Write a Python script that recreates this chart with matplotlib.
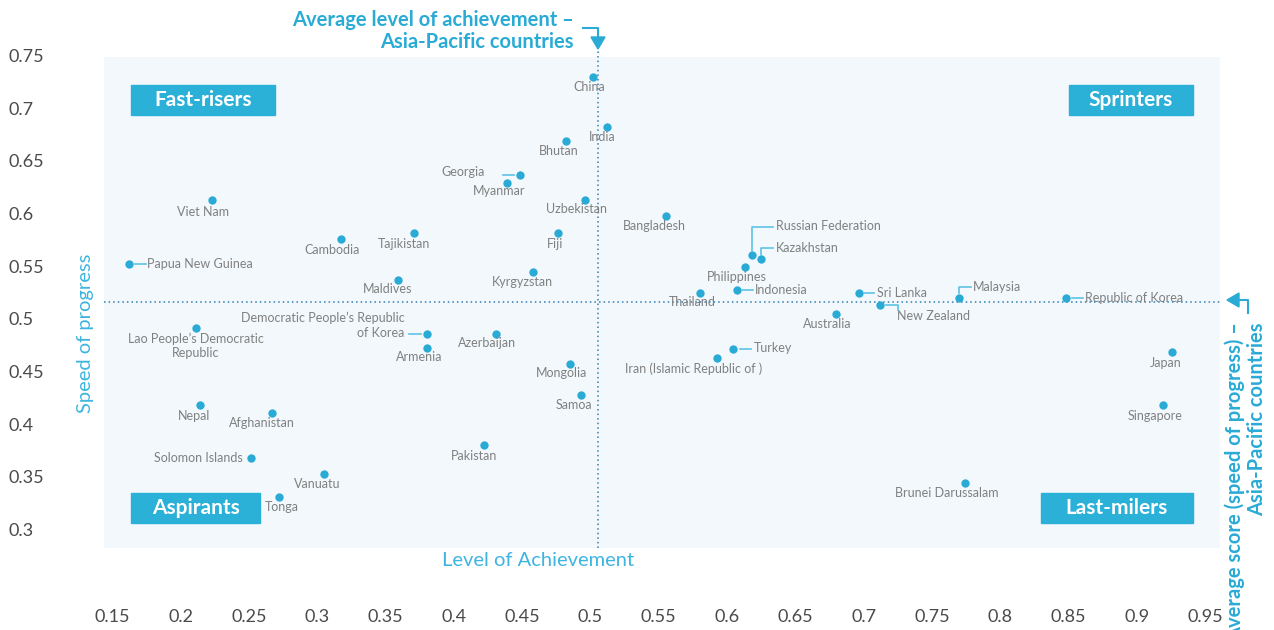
import matplotlib
matplotlib.use("Agg")
import matplotlib.pyplot as plt
from matplotlib.patches import Rectangle, Polygon
from matplotlib.lines import Line2D

plt.rcParams['font.family'] = ['Lato', 'DejaVu Sans']

# ---------------- data ----------------
countries = [
    "China", "India", "Bhutan", "Georgia", "Myanmar", "Uzbekistan", "Bangladesh",
    "Viet Nam", "Cambodia", "Tajikistan", "Fiji", "Papua New Guinea", "Maldives",
    "Kyrgyzstan", "Lao People\u2019s Democratic\nRepublic",
    "Democratic People\u2019s Republic\nof Korea", "Armenia", "Azerbaijan",
    "Mongolia", "Samoa", "Nepal", "Afghanistan", "Solomon Islands", "Pakistan",
    "Vanuatu", "Tonga", "Russian Federation", "Kazakhstan", "Philippines",
    "Thailand", "Indonesia", "Sri Lanka", "Malaysia", "New Zealand", "Australia",
    "Turkey", "Iran (Islamic Republic of )", "Republic of Korea", "Japan",
    "Singapore", "Brunei Darussalam",
]
achievement = [
    0.502, 0.512, 0.482, 0.448, 0.439, 0.496, 0.555,
    0.223, 0.317, 0.371, 0.476, 0.162, 0.359,
    0.458, 0.211,
    0.380, 0.380, 0.431,
    0.485, 0.493, 0.214, 0.267, 0.251, 0.422,
    0.305, 0.272, 0.618, 0.625, 0.613,
    0.580, 0.607, 0.697, 0.770, 0.712, 0.680,
    0.604, 0.593, 0.848, 0.926,
    0.919, 0.774,
]
speed = [
    0.731, 0.684, 0.670, 0.638, 0.630, 0.614, 0.599,
    0.614, 0.577, 0.583, 0.583, 0.554, 0.538,
    0.546, 0.493,
    0.487, 0.474, 0.487,
    0.459, 0.429, 0.420, 0.412, 0.369, 0.382,
    0.354, 0.332, 0.562, 0.558, 0.551,
    0.526, 0.529, 0.526, 0.521, 0.515, 0.506,
    0.473, 0.464, 0.521, 0.470,
    0.420, 0.346,
]
avg_achievement = 0.5055
avg_speed = 0.5173
x_ticks = [0.15, 0.2, 0.25, 0.3, 0.35, 0.4, 0.45, 0.5, 0.55, 0.6, 0.65,
           0.7, 0.75, 0.8, 0.85, 0.9, 0.95]
y_ticks = [0.3, 0.35, 0.4, 0.45, 0.5, 0.55, 0.6, 0.65, 0.7, 0.75]
quadrants = ["Fast-risers", "Sprinters", "Aspirants", "Last-milers"]

# ---------------- style ----------------
CYAN = "#29abd6"
BOX = "#2bb0d8"
LEAD = "#5cc4e6"
LABEL = "#808080"
TICK = "#4a4a4a"
W, H = 1274, 630

fig = plt.figure(figsize=(W / 100, H / 100), dpi=100)
ax = fig.add_axes([104 / W, 1 - 548 / H, 1116 / W, 491 / H])
ax.set_xlim(0.1436, 0.9611)
ax.set_ylim(0.2840, 0.7453)
ax.set_facecolor("#f2f8fc")
for s in ax.spines.values():
    s.set_visible(False)

ax.set_xticks(x_ticks)
ax.set_xticklabels([f"{v:g}" for v in x_ticks])
ax.set_yticks(y_ticks)
ax.set_yticklabels([f"{v:g}" for v in y_ticks])
ax.tick_params(length=0, labelsize=13, labelcolor=TICK)
ax.tick_params(axis="x", pad=44)
ax.tick_params(axis="y", pad=69)
for lbl in ax.get_yticklabels():
    lbl.set_ha("left")
    lbl.set_va("center")

# average lines
ax.axvline(avg_achievement, ymax=1.014, clip_on=False, color="#2f7fb5", lw=1.1,
           ls=(0, (1, 2)))
ax.axhline(avg_speed, color="#2f7fb5", lw=1.1, ls=(0, (1, 2)))

ax.scatter(achievement, speed, s=36, color=CYAN, zorder=3, linewidths=0)

# label layout: (dx, dy) in image pixels (dy down), horizontal alignment
layout = {
    "China": (-4, 10, "center"), "India": (-5, 10, "center"),
    "Bhutan": (-7, 10, "center"), "Georgia": (-35, -3, "right"),
    "Myanmar": (-8, 8, "center"), "Uzbekistan": (-9, 9, "center"),
    "Bangladesh": (-11, 10, "center"), "Viet Nam": (-9, 12, "center"),
    "Cambodia": (-9, 11, "center"), "Tajikistan": (-10, 11, "center"),
    "Fiji": (-3, 11, "center"), "Papua New Guinea": (18, 0, "left"),
    "Maldives": (-10, 9, "center"), "Kyrgyzstan": (-11, 10, "center"),
    "Lao People\u2019s Democratic\nRepublic": (0, 18, "center"),
    "Democratic People\u2019s Republic\nof Korea": (-22, -9, "right"),
    "Armenia": (-7, 9, "center"), "Azerbaijan": (-9, 9, "center"),
    "Mongolia": (-8, 9, "center"), "Samoa": (-7, 10, "center"),
    "Nepal": (-6, 11, "center"), "Afghanistan": (-11, 10, "center"),
    "Solomon Islands": (-8, 0, "right"), "Pakistan": (-10, 11, "center"),
    "Vanuatu": (-7, 10, "center"), "Tonga": (3, 10, "center"),
    "Russian Federation": (24, -29, "left"), "Kazakhstan": (15, -11, "left"),
    "Philippines": (-8, 10, "center"), "Thailand": (-7, 9, "center"),
    "Indonesia": (18, 0, "left"), "Sri Lanka": (18, 0, "left"),
    "Malaysia": (14, -11, "left"), "New Zealand": (17, 11, "left"),
    "Australia": (-9, 10, "center"), "Turkey": (21, -1, "left"),
    "Iran (Islamic Republic of )": (-24, 10, "center"),
    "Republic of Korea": (19, 0, "left"), "Japan": (-6, 11, "center"),
    "Singapore": (-7, 11, "center"), "Brunei Darussalam": (-18, 10, "center"),
}
for name, x, y in zip(countries, achievement, speed):
    dx, dy, ha = layout[name]
    ax.annotate(name, (x, y), xytext=(dx, -dy), textcoords="offset pixels",
                ha=ha, va="center", multialignment=ha,
                fontsize=9, color=LABEL, linespacing=1.25, zorder=4)

# leader lines (pixel offsets relative to points, dy down)
leaders = {
    "Georgia": [(-17, 0), (-6, 0)],
    "Papua New Guinea": [(6, 0), (17, 0)],
    "Democratic People\u2019s Republic\nof Korea": [(-18, 0), (-6, 0)],
    "Russian Federation": [(0, -4), (0, -28), (21, -28)],
    "Kazakhstan": [(0, -4), (0, -11), (12, -11)],
    "Indonesia": [(5, 0), (16, 0)],
    "Sri Lanka": [(5, 0), (15, 0)],
    "Malaysia": [(0, -5), (0, -11), (12, -11)],
    "New Zealand": [(6, 0), (18, 0), (18, 5)],
    "Turkey": [(7, 0), (18, 0)],
    "Republic of Korea": [(6, 0), (17, 0)],
}
inv = fig.transFigure.inverted()
for name, offs in leaders.items():
    i = countries.index(name)
    X, Y = ax.transData.transform((achievement[i], speed[i]))
    pts = inv.transform([(X + dx, Y - dy) for dx, dy in offs])
    fig.add_artist(Line2D(pts[:, 0], pts[:, 1], color=LEAD, lw=1.2,
                          transform=fig.transFigure, zorder=4))

# quadrant boxes (axes fraction)
BH = 0.0611
boxes = [(0.0242, 0.882, 0.1290), (0.8647, 0.882, 0.1111),
         (0.0242, 0.0509, 0.1156), (0.8396, 0.0509, 0.1362)]
for name, (bx, by, bw) in zip(quadrants, boxes):
    ax.add_patch(Rectangle((bx, by), bw, BH, transform=ax.transAxes,
                           color=BOX, zorder=5))
    ax.text(bx + bw / 2, by + BH / 2, name, transform=ax.transAxes,
            ha="center", va="center", color="white", fontsize=15,
            fontweight="bold", zorder=6)

# figure-level texts
def fp(px, py):
    return px / W, 1 - py / H

fig.text(*fp(86, 333), "Speed of progress", rotation=90, ha="center",
         va="center", fontsize=14.5, color="#3db5e0")
fig.text(*fp(538, 561), "Level of Achievement", ha="center", va="center",
         fontsize=14.5, color="#3db5e0")
fig.text(*fp(574, 31), "Average level of achievement \u2013\nAsia-Pacific countries",
         ha="right", va="center", multialignment="right", fontsize=14.5,
         fontweight="bold", color=CYAN, linespacing=1.1)
fig.text(*fp(1246, 322), "Average score (speed of progress) \u2013\nAsia-Pacific countries",
         rotation=90, ha="center", va="top", multialignment="right", fontsize=14.5,
         fontweight="bold", color=CYAN, linespacing=1.1)

# arrow marks
def pline(pts):
    xs, ys = zip(*[fp(a, b) for a, b in pts])
    fig.add_artist(Line2D(xs, ys, color=CYAN, lw=1.5, transform=fig.transFigure))

def ptri(pts):
    fig.add_artist(Polygon([fp(a, b) for a, b in pts], closed=True, color=CYAN,
                           transform=fig.transFigure))

pline([(583, 28), (598, 28), (598, 38)])
ptri([(591, 37), (605, 37), (598, 49)])
pline([(1248, 313), (1248, 300), (1238, 300)])
ptri([(1239, 293), (1239, 307), (1227, 300)])

fig.savefig("out.png", dpi=100)
